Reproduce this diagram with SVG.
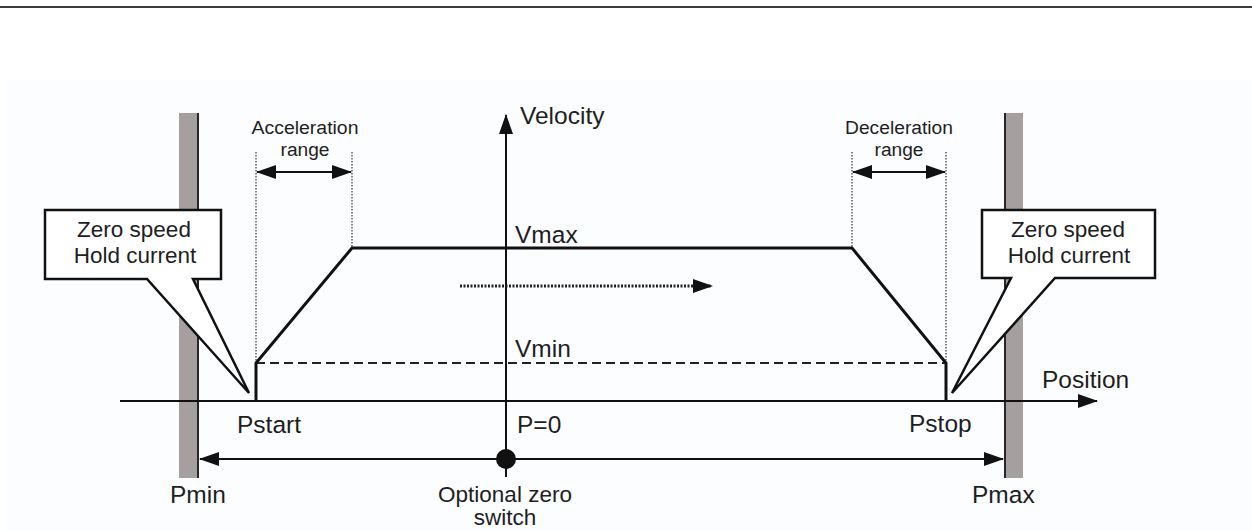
<svg xmlns="http://www.w3.org/2000/svg" width="1252" height="531" viewBox="0 0 1252 531">
  <style>
    .t { font-family: "Liberation Sans", Arial, sans-serif; fill: #1e1e1e; }
    .lbl { font-size: 24.5px; }
    .sm { font-size: 18px; }
    .call { font-size: 22.5px; }
    .ax { stroke: #111; stroke-width: 2; fill: none; }
    .prof { stroke: #111; stroke-width: 3; fill: none; stroke-linejoin: miter; }
    .dot { stroke: #333; stroke-width: 1.2; stroke-dasharray: 1.5 1.5; fill: none; }
    .wall { fill: #a59f9f; }
    .wedge { stroke: #1a1a1a; stroke-width: 1.8; }
    .callout { fill: #ffffff; stroke: #111; stroke-width: 2.5; stroke-linejoin: miter; }
  </style>
  <defs>
    <marker id="arr" markerUnits="userSpaceOnUse" markerWidth="20" markerHeight="14" refX="19" refY="7" orient="auto-start-reverse">
      <path d="M0,0 L20,7 L0,14 Z" fill="#111"/>
    </marker>
  </defs>

  <rect x="0" y="0" width="1252" height="531" fill="#ffffff"/>
  <rect x="6" y="80" width="1246" height="451" fill="#fcfdfe"/>
  <line x1="0" y1="7" x2="1252" y2="7" stroke="#3c3c3c" stroke-width="2"/>

  <g id="wall-left">
    <rect class="wall" x="179" y="113" width="20" height="365"/>
    <line class="wedge" x1="198" y1="113" x2="198" y2="478"/>
  </g>
  <g id="wall-right">
    <rect class="wall" x="1004" y="113" width="19" height="365"/>
    <line class="wedge" x1="1005" y1="113" x2="1005" y2="478"/>
  </g>

  <g id="connectors">
    <line class="dot" x1="256" y1="152" x2="256" y2="363"/>
    <line class="dot" x1="352" y1="152" x2="352" y2="248"/>
    <line class="dot" x1="852" y1="152" x2="852" y2="248"/>
    <line class="dot" x1="946" y1="152" x2="946" y2="363"/>
    <line class="ax" x1="257" y1="172" x2="351" y2="172" marker-start="url(#arr)" marker-end="url(#arr)"/>
    <line class="ax" x1="853" y1="172" x2="945" y2="172" marker-start="url(#arr)" marker-end="url(#arr)"/>
    <line class="ax" x1="120" y1="401" x2="1097" y2="401" marker-end="url(#arr)"/>
    <line class="ax" x1="506" y1="477" x2="506" y2="115" marker-end="url(#arr)"/>
    <line x1="256" y1="363" x2="946" y2="363" stroke="#222" stroke-width="2" stroke-dasharray="9 5"/>
    <polyline class="prof" points="256,402 256,363 352,248 852,248 946,363 946,402"/>
    <line x1="460" y1="286" x2="712" y2="286" stroke="#222" stroke-width="3" stroke-dasharray="2 1.5" marker-end="url(#arr)"/>
    <line class="ax" x1="200" y1="459" x2="1003" y2="459" marker-start="url(#arr)" marker-end="url(#arr)"/>
    <circle cx="506" cy="459" r="10" fill="#111"/>
  </g>

  <g id="callout-left">
    <path class="callout" d="M45,210 H221 V279 H193 L249,393 L147,279 H45 Z"/>
    <text class="t call" x="134" y="237" text-anchor="middle">Zero speed</text>
    <text class="t call" x="135" y="263" text-anchor="middle">Hold current</text>
  </g>
  <g id="callout-right">
    <path class="callout" d="M982,210 H1155 V278 H1055 L952,393 L1011,278 H982 Z"/>
    <text class="t call" x="1068" y="237" text-anchor="middle">Zero speed</text>
    <text class="t call" x="1069" y="263" text-anchor="middle">Hold current</text>
  </g>

  <g id="labels">
    <text class="t sm" x="305" y="134" text-anchor="middle" textLength="107" lengthAdjust="spacingAndGlyphs">Acceleration</text>
    <text class="t sm" x="305" y="156" text-anchor="middle" textLength="49" lengthAdjust="spacingAndGlyphs">range</text>
    <text class="t sm" x="899" y="134" text-anchor="middle" textLength="108" lengthAdjust="spacingAndGlyphs">Deceleration</text>
    <text class="t sm" x="899" y="156" text-anchor="middle" textLength="49" lengthAdjust="spacingAndGlyphs">range</text>
    <text class="t lbl" x="520" y="124">Velocity</text>
    <text class="t lbl" x="515" y="243">Vmax</text>
    <text class="t lbl" x="515" y="357">Vmin</text>
    <text class="t lbl" x="1042" y="388">Position</text>
    <text class="t lbl" x="237" y="433">Pstart</text>
    <text class="t lbl" x="517" y="433">P=0</text>
    <text class="t lbl" x="909" y="432">Pstop</text>
    <text class="t lbl" x="170" y="503">Pmin</text>
    <text class="t lbl" x="972" y="503">Pmax</text>
    <text class="t" x="505" y="502" text-anchor="middle" font-size="22.5">Optional zero</text>
    <text class="t" x="505" y="525" text-anchor="middle" font-size="22.5">switch</text>
  </g>
</svg>
